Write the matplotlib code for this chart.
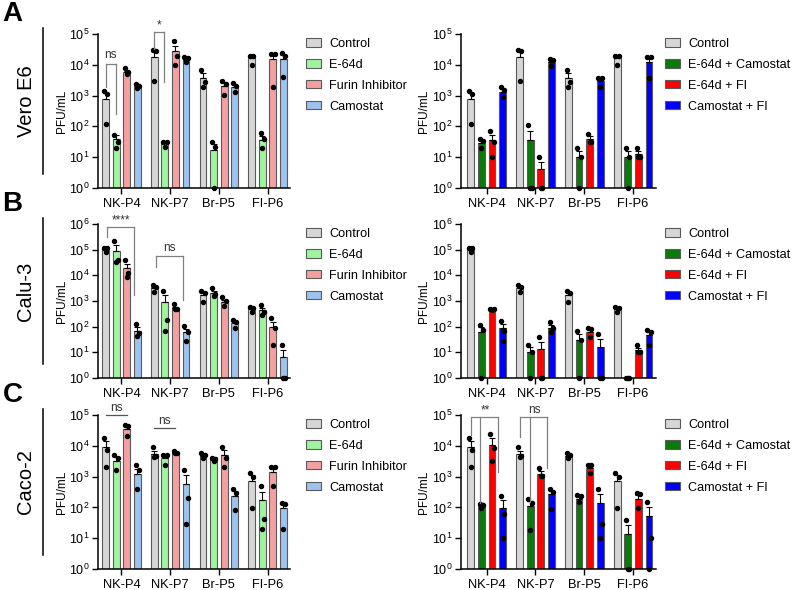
import numpy as np
import matplotlib
matplotlib.use('Agg')
import matplotlib.pyplot as plt

plt.rcParams['font.family'] = ['Liberation Sans', 'DejaVu Sans']
plt.rcParams['mathtext.default'] = 'regular'

# ---------------- datos ----------------
groups = ['NK-P4', 'NK-P7', 'Br-P5', 'FI-P6']
single_labels = ['Control', 'E-64d', 'Furin Inhibitor', 'Camostat']
combo_labels = ['Control', 'E-64d + Camostat', 'E-64d + FI', 'Camostat + FI']
single_colors = ['#d6d6d6', '#9ef59e', '#f5a0a0', '#9dc3ef']
combo_colors = ['#d6d6d6', '#0a7a0a', '#ff0000', '#0000ff']

# Vero E6 - controles
vero_ctrl_mean = [800, 18000, 3800, 16000]
vero_ctrl_sem = [420, 9000, 1450, 2700]
vero_ctrl_dots = [[1450, 1100, 120], [30000, 27000, 2900], [6800, 2700, 1900], [18600, 18600, 10200]]
# Vero E6 - inhibidores simples
vero_e64_mean = [39, 28, 17, 35]
vero_e64_sem = [12, 1.5, 9, 12]
vero_e64_dots = [[52, 30, 20], [30, 30, 22], [30, 22, 1], [60, 40, 20]]
vero_furin_mean = [5800, 28000, 2100, 15500]
vero_furin_sem = [700, 14000, 600, 6700]
vero_furin_dots = [[7600, 6000, 5000], [58000, 19500, 9800], [2900, 2400, 1050], [22000, 22000, 1950]]
vero_camo_mean = [2100, 14500, 1850, 15000]
vero_camo_sem = [220, 1800, 350, 6300]
vero_camo_dots = [[2450, 2000, 1740], [18000, 16000, 12000], [2500, 2000, 1300], [25000, 19500, 3900]]
# Vero E6 - combinaciones
vero_e64cam_mean = [29, 37, 10, 10]
vero_e64cam_sem = [6, 35, 5.5, 5.5]
vero_e64cam_dots = [[40, 33, 20], [107, 1, 1], [20, 10, 1], [20, 10, 1]]
vero_e64fi_mean = [35, 4, 40, 13]
vero_e64fi_sem = [17, 3, 9, 3]
vero_e64fi_dots = [[69, 31, 10], [10, 1, 1], [58, 31, 31], [19.5, 10, 10]]
vero_camfi_mean = [1300, 12500, 3000, 12000]
vero_camfi_sem = [300, 1800, 600, 4700]
vero_camfi_dots = [[1950, 1500, 930], [15000, 14000, 9300], [3700, 3700, 1860], [17800, 17800, 3700]]

# Calu-3 - controles
calu_ctrl_mean = [110000, 3100, 1700, 520]
calu_ctrl_sem = [13000, 500, 450, 65]
calu_ctrl_dots = [[120000, 118000, 78000], [4100, 3600, 2300], [2450, 2000, 930], [600, 520, 380]]
# Calu-3 - inhibidores simples
calu_e64_mean = [89000, 890, 2000, 430]
calu_e64_sem = [60000, 800, 550, 120]
calu_e64_dots = [[220000, 40000, 34000], [2500, 180, 68], [3300, 1800, 1500], [690, 380, 280]]
calu_furin_mean = [18600, 520, 940, 100]
calu_furin_sem = [10000, 80, 200, 55]
calu_furin_dots = [[40000, 12000, 9000], [740, 490, 490], [1380, 1000, 660], [210, 87, 19.5]]
calu_camo_mean = [70, 60, 144, 6.8]
calu_camo_sem = [28, 23, 30, 6]
calu_camo_dots = [[132, 55, 45], [107, 63, 28], [182, 155, 87], [19.5, 1, 1]]
# Calu-3 - combinaciones
calu_e64cam_mean = [60, 10, 30, 1]
calu_e64cam_sem = [35, 5.5, 20, 0]
calu_e64cam_dots = [[115, 74, 1], [19.5, 10.7, 1], [68, 30, 1], [1, 1, 1]]
calu_e64fi_mean = [450, 13, 60, 12]
calu_e64fi_sem = [25, 12, 15, 3]
calu_e64fi_dots = [[510, 470, 430], [38, 1, 1], [87, 78, 38], [19.5, 10, 10]]
calu_camfi_mean = [87, 92, 16, 47]
calu_camfi_sem = [45, 25, 16, 16]
calu_camfi_dots = [[170, 68, 27], [155, 92, 63], [50, 1, 1], [74, 60, 19.5]]

# Caco-2 - controles
caco_ctrl_mean = [8900, 5500, 4700, 740]
caco_ctrl_sem = [4900, 1400, 600, 400]
caco_ctrl_dots = [[17800, 7100, 2000], [8900, 4500, 4200], [6000, 5000, 4000], [1290, 1000, 98]]
# Caco-2 - inhibidores simples
caco_e64_mean = [3200, 4000, 4100, 174]
caco_e64_sem = [1000, 800, 300, 150]
caco_e64_dots = [[5000, 4000, 1600], [5000, 5000, 2400], [4100, 3600, 3300], [500, 41, 19.5]]
caco_furin_mean = [36000, 5800, 5100, 1380]
caco_furin_sem = [8500, 250, 2000, 500]
caco_furin_dots = [[48000, 45000, 21000], [6600, 6000, 5800], [8900, 4000, 2000], [2100, 2100, 500]]
caco_camo_mean = [1250, 590, 235, 93]
caco_camo_sem = [550, 520, 95, 38]
caco_camo_dots = [[2300, 1700, 400], [1600, 195, 30], [400, 290, 85], [135, 130, 19.5]]
# Caco-2 - combinaciones
caco_e64cam_mean = [125, 110, 187, 13.5]
caco_e64cam_sem = [10, 50, 30, 12.5]
caco_e64cam_dots = [[125, 120, 93], [186, 141, 19], [250, 230, 145], [39, 1, 1]]
caco_e64fi_mean = [10800, 1200, 1870, 187]
caco_e64fi_sem = [7000, 270, 350, 60]
caco_e64fi_dots = [[24000, 8300, 3100], [1860, 1050, 1050], [2400, 2300, 1290], [295, 270, 93]]
caco_camfi_mean = [97, 265, 138, 52]
caco_camfi_sem = [75, 95, 130, 48]
caco_camfi_dots = [[240, 60, 10], [400, 320, 90], [400, 30, 10], [145, 10, 1]]

# ---------------- estilo ----------------
pitch = 0.217
width = 0.14
dot_dx = [-0.035, 0.035, 0.0]
x = np.arange(len(groups))


def dibujar_panel(ax, labels, colors, means, sems, dots, ytop, xlim):
    for i in range(4):
        xs = x + (i - 1.5) * pitch
        m = np.array(means[i], dtype=float)
        ax.bar(xs, m - 1, width, bottom=1, color=colors[i], edgecolor='#5a5a5a',
               linewidth=0.8, label=labels[i], zorder=2)
        ax.errorbar(xs, m, yerr=[np.zeros(4), sems[i]], fmt='none', ecolor='black',
                    elinewidth=0.8, capsize=2, capthick=0.8, zorder=3)
        for j in range(4):
            ax.plot(xs[j] + np.array(dot_dx), dots[i][j], 'o', color='black', ms=2.9,
                    clip_on=False, zorder=4)
    ax.set_yscale('log')
    ax.set_ylim(1, ytop)
    ax.set_xlim(*xlim)
    n = int(round(np.log10(ytop)))
    ax.set_yticks([10 ** k for k in range(n + 1)])
    ax.set_yticklabels(['$10^{%d}$' % k for k in range(n + 1)])
    ax.minorticks_off()
    ax.set_xticks(x)
    ax.set_xticklabels(groups)
    ax.tick_params(width=1, length=4, colors='black')
    ax.tick_params(axis='x', labelsize=9.3, pad=3)
    ax.tick_params(axis='y', labelsize=9, pad=2)
    ax.set_ylabel('PFU/mL', fontsize=8.5, labelpad=1)
    for s in ['top', 'right']:
        ax.spines[s].set_visible(False)
    for s in ['left', 'bottom']:
        ax.spines[s].set_linewidth(1.1)


def corchete(ax, g, legs, top, text, dy=1.25, tx=None):
    # legs: lista de (desplazamiento en barras, valor inferior)
    xs = [g + d * pitch for d, _ in legs]
    ax.plot([min(xs), max(xs)], [top, top], color='#808080', lw=0.9, clip_on=False, zorder=5)
    for xx, (_, low) in zip(xs, legs):
        ax.plot([xx, xx], [low, top], color='#808080', lw=0.9, clip_on=False, zorder=5)
    xt = (xs[0] + xs[1]) / 2 if tx is None else g + tx * pitch
    ax.text(xt, top * dy, text, ha='center', va='bottom', fontsize=8.5, color='#333333')


def linea_ns(ax, g, d0, d1, y, text):
    ax.plot([g + d0 * pitch, g + d1 * pitch], [y, y], color='#555555', lw=0.9, clip_on=False)
    ax.text(g + (d0 + d1) / 2 * pitch, y * 1.1, text, ha='center', va='bottom', fontsize=8.5,
            color='#333333')


def leyenda(ax, fx, fy):
    ax.legend(loc='upper left', bbox_to_anchor=(fx, fy), bbox_transform=fig.transFigure,
              frameon=False, fontsize=9.1, borderpad=0, borderaxespad=0, handlelength=1.2,
              handleheight=0.64, handletextpad=0.64, labelspacing=0.7)


fig = plt.figure(figsize=(8, 5.9), dpi=100)

filas = [
    ('A', 'Vero E6', 0.6814, 1e5,
     [vero_ctrl_mean, vero_e64_mean, vero_furin_mean, vero_camo_mean],
     [vero_ctrl_sem, vero_e64_sem, vero_furin_sem, vero_camo_sem],
     [vero_ctrl_dots, vero_e64_dots, vero_furin_dots, vero_camo_dots],
     [vero_ctrl_mean, vero_e64cam_mean, vero_e64fi_mean, vero_camfi_mean],
     [vero_ctrl_sem, vero_e64cam_sem, vero_e64fi_sem, vero_camfi_sem],
     [vero_ctrl_dots, vero_e64cam_dots, vero_e64fi_dots, vero_camfi_dots]),
    ('B', 'Calu-3', 0.3593, 1e6,
     [calu_ctrl_mean, calu_e64_mean, calu_furin_mean, calu_camo_mean],
     [calu_ctrl_sem, calu_e64_sem, calu_furin_sem, calu_camo_sem],
     [calu_ctrl_dots, calu_e64_dots, calu_furin_dots, calu_camo_dots],
     [calu_ctrl_mean, calu_e64cam_mean, calu_e64fi_mean, calu_camfi_mean],
     [calu_ctrl_sem, calu_e64cam_sem, calu_e64fi_sem, calu_camfi_sem],
     [calu_ctrl_dots, calu_e64cam_dots, calu_e64fi_dots, calu_camfi_dots]),
    ('C', 'Caco-2', 0.0356, 1e5,
     [caco_ctrl_mean, caco_e64_mean, caco_furin_mean, caco_camo_mean],
     [caco_ctrl_sem, caco_e64_sem, caco_furin_sem, caco_camo_sem],
     [caco_ctrl_dots, caco_e64_dots, caco_furin_dots, caco_camo_dots],
     [caco_ctrl_mean, caco_e64cam_mean, caco_e64fi_mean, caco_camfi_mean],
     [caco_ctrl_sem, caco_e64cam_sem, caco_e64fi_sem, caco_camfi_sem],
     [caco_ctrl_dots, caco_e64cam_dots, caco_e64fi_dots, caco_camfi_dots]),
]

ejes = []
for letra, celula, bottom, ytop, m1, s1, d1, m2, s2, d2 in filas:
    axl = fig.add_axes([0.1225, bottom, 0.24, 0.261])
    dibujar_panel(axl, single_labels, single_colors, m1, s1, d1, ytop, (-0.48, 3.46))
    axr = fig.add_axes([0.576, bottom, 0.244, 0.261])
    dibujar_panel(axr, combo_labels, combo_colors, m2, s2, d2, ytop, (-0.53, 3.47))
    ejes.append((axl, axr))
    top_px = (1 - bottom - 0.261) * 590
    leyenda(axl, 306 / 800, 1 - (top_px + 4) / 590)
    leyenda(axr, 665 / 800, 1 - (top_px + 4) / 590)
    # etiquetas de fila
    fig.text(0.003, 1 - (top_px - 20) / 590, letra, fontsize=20, fontweight='bold', va='center')
    fig.text(26 / 800, 1 - (top_px + 67) / 590, celula, fontsize=14.5, rotation=90,
             ha='center', va='center')
    fig.add_artist(plt.Line2D([43 / 800, 43 / 800], [1 - (top_px - 6) / 590, 1 - (top_px + 140) / 590],
                              color='black', lw=1.1))

# significancias
axA, _ = ejes[0]
corchete(axA, 0, [(-1.45, 1900), (-0.55, 260)], 11000, 'ns')
corchete(axA, 1, [(-1.55, 32000), (-0.6, 2700)], 1.15e5, '*', dy=1.05)
axB, _ = ejes[1]
corchete(axB, 0, [(-1.35, 3.2e5), (1.2, 1700)], 7.5e5, '****', dy=1.05)
corchete(axB, 1, [(-1.35, 22000), (1.25, 1100)], 55000, 'ns')
axC, axCr = ejes[2]
linea_ns(axC, 0, -1.5, 0.5, 1.0e5, 'ns')
linea_ns(axC, 1, -1.5, 0.5, 38000, 'ns')
# corchetes con tres patas
corchete(axCr, 0, [(-1.5, 22000), (-0.62, 135), (1.03, 1450)], 85000, '**', dy=1.05, tx=-0.15)
corchete(axCr, 1, [(-1.5, 20000), (-0.52, 150), (1.09, 1900)], 85000, 'ns', dy=1.1, tx=-0.1)

fig.savefig('out.png', dpi=100)
